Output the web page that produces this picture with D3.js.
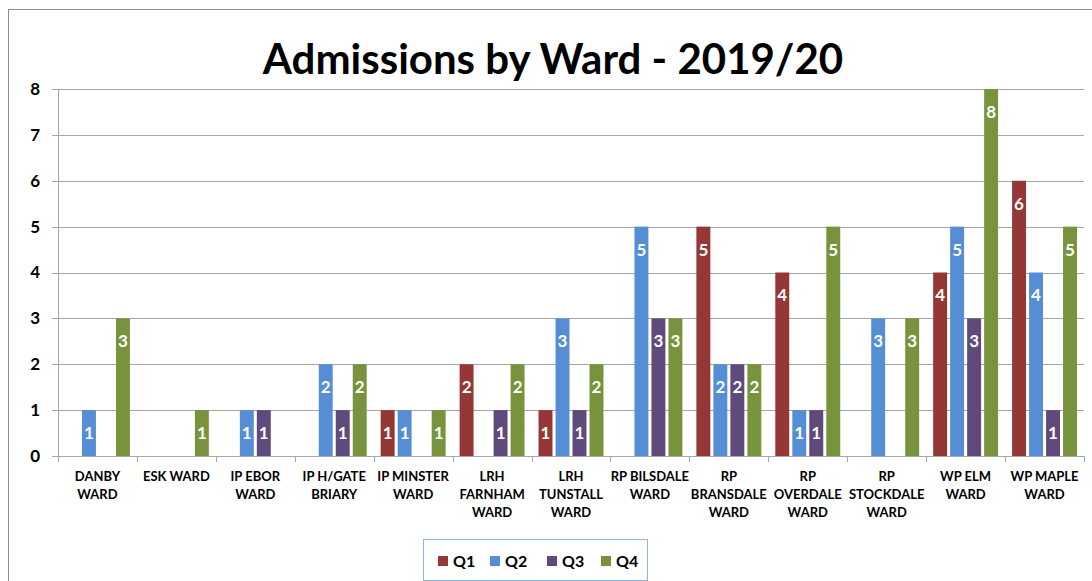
<!DOCTYPE html>
<html>
  <head>
    <meta charset="utf-8">
    <title>Admissions by Ward - 2019/20</title>
    <script src="https://d3js.org/d3.v7.min.js"></script>
    <style>
      body { margin: 0; background: #fff; }
      svg text { font-family: Lato, "Open Sans", sans-serif; font-weight: bold; }
      .grid line { stroke: #a6a6a6; stroke-width: 1px; }
    </style>
  </head>
  <body>
    <div id="chart"></div>
    <script>
      // Data
      const wards = [
        "DANBY WARD", "ESK WARD", "IP EBOR WARD", "IP H/GATE BRIARY",
        "IP MINSTER WARD", "LRH FARNHAM WARD", "LRH TUNSTALL WARD",
        "RP BILSDALE WARD", "RP BRANSDALE WARD", "RP OVERDALE WARD",
        "RP STOCKDALE WARD", "WP ELM WARD", "WP MAPLE WARD"
      ];
      // how each tick label wraps
      const wardLines = [
        ["DANBY", "WARD"], ["ESK WARD"], ["IP EBOR", "WARD"], ["IP H/GATE", "BRIARY"],
        ["IP MINSTER", "WARD"], ["LRH", "FARNHAM", "WARD"], ["LRH", "TUNSTALL", "WARD"],
        ["RP BILSDALE", "WARD"], ["RP", "BRANSDALE", "WARD"], ["RP", "OVERDALE", "WARD"],
        ["RP", "STOCKDALE", "WARD"], ["WP ELM", "WARD"], ["WP MAPLE", "WARD"]
      ];
      const quarters = ["Q1", "Q2", "Q3", "Q4"];
      const q1 = [0, 0, 0, 0, 1, 2, 1, 0, 5, 4, 0, 4, 6];
      const q2 = [1, 0, 1, 2, 1, 0, 3, 5, 2, 1, 3, 5, 4];
      const q3 = [0, 0, 1, 1, 0, 1, 1, 3, 2, 1, 0, 3, 1];
      const q4 = [3, 1, 0, 2, 1, 2, 2, 3, 2, 5, 3, 8, 5];
      const yTicks = [0, 1, 2, 3, 4, 5, 6, 7, 8];
      const colors = ["#953735", "#558ed5", "#604a7b", "#77933c"];

      const series = [q1, q2, q3, q4];
      const width = 1092, height = 581;
      const margin = { top: 89, right: 8, bottom: 125, left: 58 };

      const svg = d3.select("#chart").append("svg")
        .attr("width", width)
        .attr("height", height);

      // chart area border (left and top edges visible)
      svg.append("rect")
        .attr("x", 8.5).attr("y", 9.5)
        .attr("width", 1200).attr("height", 700)
        .attr("fill", "none")
        .attr("stroke", "#8c8c8c");

      svg.append("text")
        .attr("x", 553).attr("y", 74)
        .attr("text-anchor", "middle")
        .attr("font-size", 42)
        .attr("fill", "#000")
        .text("Admissions by Ward - 2019/20");

      const x = d3.scaleBand()
        .domain(wards)
        .range([margin.left, width - margin.right]);

      const x1 = d3.scaleBand()
        .domain(quarters)
        .range([7, x.bandwidth() - 7])
        .paddingInner(0.18);

      const y = d3.scaleLinear()
        .domain([0, 8])
        .range([height - margin.bottom, margin.top]);

      // gridlines
      svg.append("g").attr("class", "grid")
        .selectAll("line")
        .data(yTicks)
        .join("line")
        .attr("x1", margin.left - 6)
        .attr("x2", width - margin.right)
        .attr("y1", d => Math.round(y(d)) + 0.5)
        .attr("y2", d => Math.round(y(d)) + 0.5);

      // y axis line + labels
      svg.append("line")
        .attr("x1", margin.left + 0.5).attr("x2", margin.left + 0.5)
        .attr("y1", y(8)).attr("y2", y(0))
        .attr("stroke", "#a6a6a6");

      svg.append("g")
        .selectAll("text")
        .data(yTicks)
        .join("text")
        .attr("x", 40)
        .attr("y", d => y(d))
        .attr("dy", "0.35em")
        .attr("text-anchor", "end")
        .attr("font-size", 17)
        .attr("fill", "#000")
        .text(d => d);

      // x category ticks
      const edges = wards.map(w => x(w)).concat([x(wards[wards.length - 1]) + x.bandwidth()]);
      svg.append("g")
        .selectAll("line")
        .data(edges)
        .join("line")
        .attr("x1", d => Math.round(d) + 0.5)
        .attr("x2", d => Math.round(d) + 0.5)
        .attr("y1", y(0))
        .attr("y2", y(0) + 6)
        .attr("stroke", "#a6a6a6");

      // bars
      const groups = svg.append("g")
        .selectAll("g")
        .data(wards)
        .join("g")
        .attr("transform", d => `translate(${x(d)},0)`);

      const cells = (d, i) => quarters.map((q, k) => ({ q, k, v: series[k][i] })).filter(e => e.v > 0);

      groups.selectAll("rect")
        .data(cells)
        .join("rect")
        .attr("x", d => x1(d.q))
        .attr("width", x1.bandwidth())
        .attr("y", d => y(d.v))
        .attr("height", d => y(0) - y(d.v))
        .attr("fill", d => colors[d.k]);

      groups.selectAll("text")
        .data(cells)
        .join("text")
        .attr("x", d => x1(d.q) + x1.bandwidth() / 2)
        .attr("y", d => y(d.v) + 23)
        .attr("dy", "0.35em")
        .attr("text-anchor", "middle")
        .attr("font-size", 17)
        .attr("fill", "#fff")
        .text(d => d.v);

      // x labels
      const xl = svg.append("g")
        .selectAll("text")
        .data(wards)
        .join("text")
        .attr("x", d => x(d) + x.bandwidth() / 2)
        .attr("y", 476)
        .attr("text-anchor", "middle")
        .attr("font-size", 13)
        .attr("fill", "#000");
      xl.selectAll("tspan")
        .data((d, i) => wardLines[i])
        .join("tspan")
        .attr("x", function () { return d3.select(this.parentNode).attr("x"); })
        .attr("dy", (d, i) => i === 0 ? "0.35em" : 18)
        .text(d => d);

      // legend
      const lg = svg.append("g");
      lg.append("rect")
        .attr("x", 423.5).attr("y", 539.5)
        .attr("width", 224).attr("height", 41)
        .attr("fill", "#fff")
        .attr("stroke", "#8eb4e3");
      const legendX = [438, 490, 547, 601];
      const li = lg.selectAll("g.item")
        .data(quarters)
        .join("g")
        .attr("class", "item")
        .attr("transform", (d, i) => `translate(${legendX[i]},561)`);
      li.append("rect")
        .attr("x", 0).attr("y", -5)
        .attr("width", 10).attr("height", 10)
        .attr("fill", (d, i) => colors[i]);
      li.append("text")
        .attr("x", 15).attr("dy", "0.35em")
        .attr("font-size", 16)
        .attr("fill", "#000")
        .text(d => d);
    </script>
  </body>
</html>
